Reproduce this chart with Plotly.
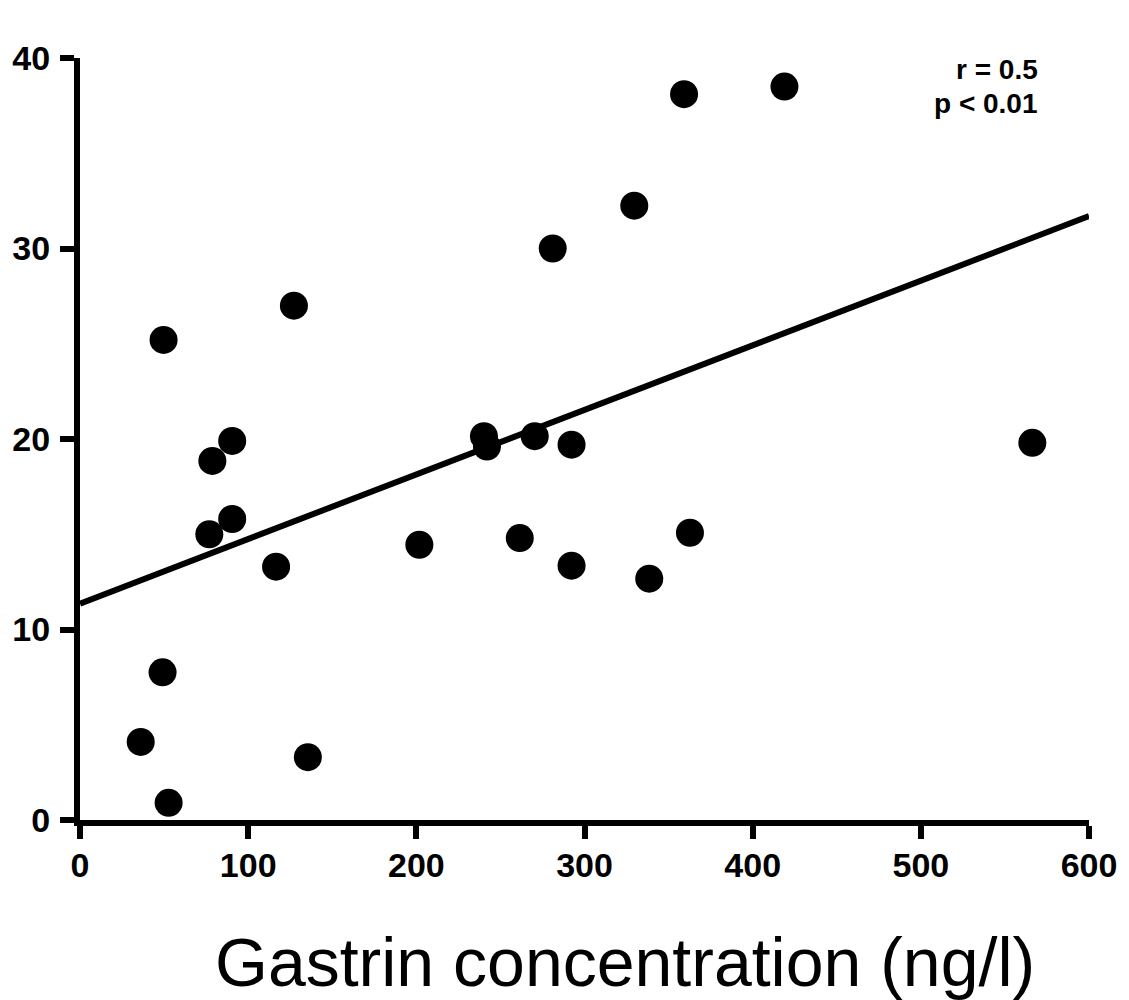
import plotly.graph_objects as go

# Gastrin concentration (ng/l)
gastrin = [49.7, 127.2, 90.5, 78.7, 90.5, 76.9, 116.6, 49.1, 36.1, 52.7, 135.5,
           201.8, 240.2, 242.0, 270.4, 261.5, 292.3, 292.3, 281.1, 329.6, 338.5,
           362.7, 359.2, 418.9, 566.3]
# Response variable
response = [25.2, 27.0, 19.9, 18.85, 15.8, 15.0, 13.3, 7.75, 4.1, 0.9, 3.3,
            14.45, 20.15, 19.6, 20.15, 14.8, 19.7, 13.35, 30.0, 32.25, 12.67,
            15.08, 38.1, 38.5, 19.8]

# Regression line end points
fit_x = [0, 600]
fit_y = [11.36, 31.7]

x_ticks = [0, 100, 200, 300, 400, 500, 600]
y_ticks = [0, 10, 20, 30, 40]

FONT = "Liberation Sans, Arial, Helvetica, sans-serif"

fig = go.Figure()
fig.add_trace(go.Scatter(x=fit_x, y=fit_y, mode="lines",
                         line=dict(color="black", width=6),
                         cliponaxis=False, showlegend=False, hoverinfo="skip"))
fig.add_trace(go.Scatter(x=gastrin, y=response, mode="markers",
                         marker=dict(color="black", size=28, line=dict(width=0)),
                         cliponaxis=False, showlegend=False))

L, R, T, B = 78, 39, 58, 180
W, H = 1129, 1000
pw = W - L - R
ph = H - T - B

fig.update_layout(
    width=W, height=H,
    margin=dict(l=L, r=R, t=T, b=B),
    plot_bgcolor="white", paper_bgcolor="white",
    font=dict(family=FONT, color="black"),
    xaxis=dict(range=[0, 600], tickvals=x_ticks, ticktext=[str(v) for v in x_ticks],
               showgrid=False, zeroline=False, showline=True, linecolor="black",
               linewidth=6, ticks="outside", ticklen=13, tickwidth=6, tickcolor="black",
               ticklabelstandoff=-3,
               tickfont=dict(size=34, family=FONT, color="black", weight="bold"),
               fixedrange=True),
    yaxis=dict(range=[0, 40], tickvals=y_ticks, ticktext=[str(v) for v in y_ticks],
               showgrid=False, zeroline=False, showline=True, linecolor="black",
               linewidth=6, ticks="outside", ticklen=14, tickwidth=6, tickcolor="black",
               ticklabelstandoff=3,
               tickfont=dict(size=34, family=FONT, color="black", weight="bold"),
               fixedrange=True),
    annotations=[
        dict(text="Gastrin concentration (ng/l)", xref="paper", yref="paper",
             x=(625 - L) / pw, y=(820 - 962) / ph, xanchor="center", yanchor="middle",
             showarrow=False, font=dict(size=68, family=FONT, color="black")),
        dict(text="r = 0.5", xref="paper", yref="paper",
             x=(1040 - L) / pw, y=(820 - 70) / ph, xanchor="right", yanchor="middle",
             showarrow=False, borderpad=0,
             font=dict(size=28, family=FONT, color="black", weight="bold")),
        dict(text="p < 0.01", xref="paper", yref="paper",
             x=(1040 - L) / pw, y=(820 - 103) / ph, xanchor="right", yanchor="middle",
             showarrow=False, borderpad=0,
             font=dict(size=28, family=FONT, color="black", weight="bold")),
    ],
)

fig.write_html("out.html")
